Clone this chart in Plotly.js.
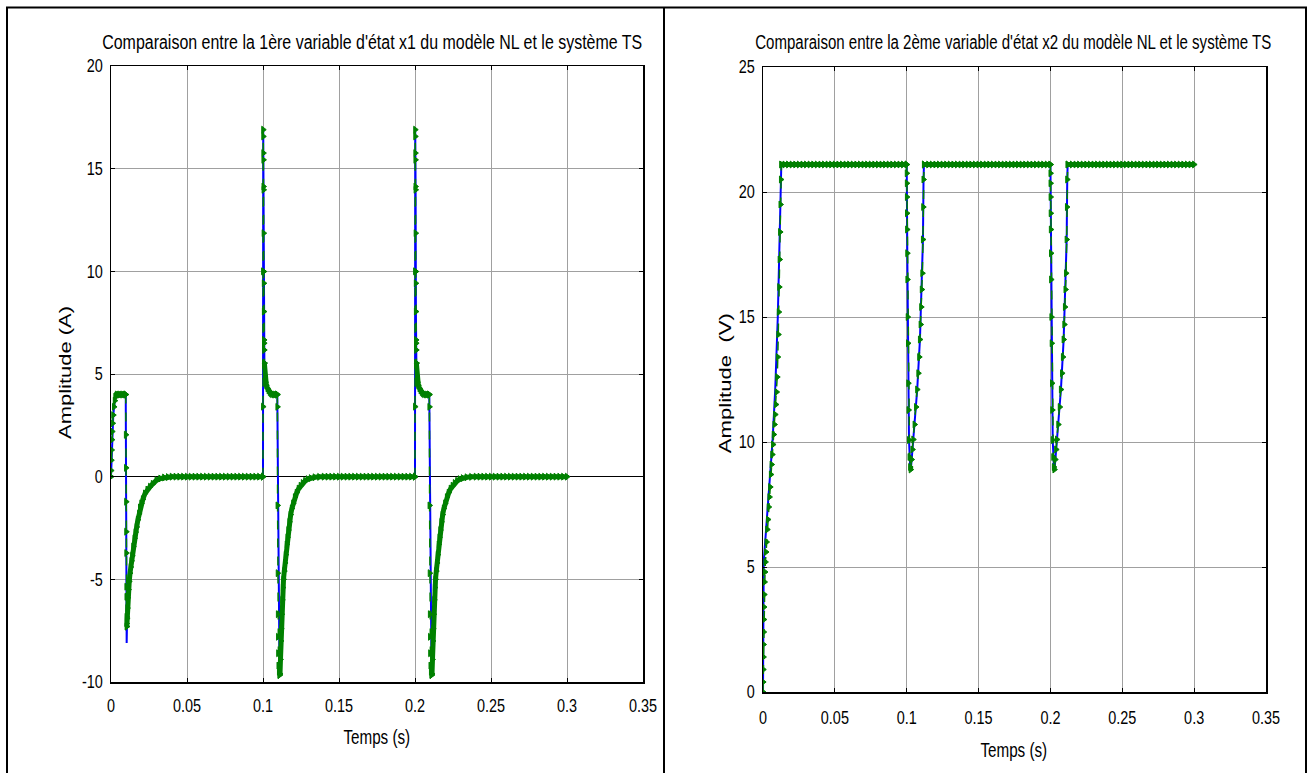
<!DOCTYPE html>
<html>
<head>
<meta charset="utf-8">
<script src="https://cdn.plot.ly/plotly-3.0.1.min.js"></script>
<style>
html,body{margin:0;padding:0;background:#fff;}
#chart{width:1314px;height:773px;}
</style>
</head>
<body>
<div id="chart"></div>
<script>
// ---------------- DATA ----------------
// Tick labels
const xTickVals = [0, 0.05, 0.1, 0.15, 0.2, 0.25, 0.3, 0.35];
const xTickText = ['0', '0.05', '0.1', '0.15', '0.2', '0.25', '0.3', '0.35'];
const y1TickVals = [-10, -5, 0, 5, 10, 15, 20];
const y1TickText = ['-10', '-5', '0', '5', '10', '15', '20'];
const y2TickVals = [0, 5, 10, 15, 20, 25];
const y2TickText = ['0', '5', '10', '15', '20', '25'];

// Texts
const title1 = "Comparaison entre la 1ère variable d'état x1 du modèle NL et le système TS";
const title2 = "Comparaison entre la 2ème variable d'état x2 du modèle NL et le système TS";
const xTitle = "Temps (s)";
const y1Title = "Amplitude (A)";
const y2Title = "Amplitude\u00a0\u00a0(V)";

// ===== x1 : TS system (green) =====
// pulse 1
const x1TsRise1T = [0,0.0001,0.0002,0.0004,0.0006,0.0008,0.0011,0.0015,0.002,0.0025,0.003];
const x1TsRise1V = [0,0.3,0.8,1.3,1.8,2.2,2.6,3.0,3.4,3.7,3.9];
const x1TsTop1T = [0.003,0.0035,0.004,0.005,0.006,0.007,0.008,0.009,0.0097];
const x1TsTop1V = [3.9,3.95,4,4,4,4,4,4,4];
const x1TsDrop1T = [0.0097,0.0098,0.0099,0.01,0.01005,0.0101,0.01015,0.0102,0.01025,0.0103,0.0104];
const x1TsDrop1V = [4,2.04,0.43,-1.22,-2.68,-3.72,-5.36,-5.85,-6.82,-7.15,-7.3];
const x1TsRec1T = [0.0104,0.0106,0.0108,0.011,0.0115,0.012,0.0125,0.013,0.0135,0.014,0.0147,0.0155,0.0162,0.0169,0.0177,0.0185,0.0191,0.02,0.021,0.0224,0.024,0.0257,0.0275,0.03,0.0325,0.035,0.0375,0.04];
const x1TsRec1V = [-7.3,-6.9,-6.4,-5.9,-5.5,-5.1,-4.7,-4.4,-4.1,-3.85,-3.4,-3.0,-2.7,-2.45,-2.1,-1.8,-1.5,-1.3,-1.1,-0.82,-0.63,-0.49,-0.35,-0.17,-0.09,-0.04,-0.02,0];
const x1TsRest1T = [0.0425,0.045,0.0475,0.05,0.0525,0.055,0.0575,0.06,0.0625,0.065,0.0675,0.07,0.0725,0.075,0.0775,0.08,0.0825,0.085,0.0875,0.09,0.0925,0.095,0.0975,0.1];
const x1TsRest1V = [0,0,0,0,0,0,0,0,0,0,0,0,0,0,0,0,0,0,0,0,0,0,0,0];
// pulse 2
const x1TsSpike2T = [0.1,0.10005,0.1001,0.10015,0.1002,0.10025,0.1003,0.10035,0.1004,0.10045,0.1005,0.10055,0.1006,0.1007,0.10075,0.1008,0.1009];
const x1TsSpike2V = [0,3.41,10,16.9,16.57,15.76,15.43,14.13,13.97,11.86,9.99,9.42,8.04,6.66,6.5,6.17,5.53];
const x1TsTop2T = [0.1009,0.1012,0.1016,0.1022,0.103,0.1037,0.1045,0.1052,0.106,0.107,0.108,0.109,0.1094];
const x1TsTop2V = [5.53,4.9,4.6,4.45,4.3,4.2,4.12,4.06,4.02,4,4,4,4];
const x1TsDrop2T = [0.1094,0.1095,0.1096,0.1097,0.1098,0.1099,0.11,0.1102,0.1105,0.1109];
const x1TsDrop2V = [4,3.4,-1.4,-4.7,-6.7,-7.8,-8.6,-9.2,-9.5,-9.66];
const x1TsRec2T = [0.1109,0.1112,0.1115,0.1118,0.112,0.1123,0.1127,0.1131,0.1135,0.114,0.1145,0.115,0.1156,0.1161,0.1167,0.1174,0.1182,0.119,0.1199,0.121,0.1222,0.1235,0.1248,0.1262,0.1278,0.1295,0.1315,0.134,0.137,0.14];
const x1TsRec2V = [-9.66,-9.6,-8.9,-8.0,-7.4,-6.7,-6.0,-5.4,-5.0,-4.6,-4.2,-3.8,-3.3,-2.95,-2.6,-2.2,-1.85,-1.55,-1.3,-1.0,-0.78,-0.58,-0.44,-0.31,-0.2,-0.12,-0.07,-0.03,-0.01,0];
const x1TsRest2T = [0.1425,0.145,0.1475,0.15,0.1525,0.155,0.1575,0.16,0.1625,0.165,0.1675,0.17,0.1725,0.175,0.1775,0.18,0.1825,0.185,0.1875,0.19,0.1925,0.195,0.1975,0.2];
const x1TsRest2V = [0,0,0,0,0,0,0,0,0,0,0,0,0,0,0,0,0,0,0,0,0,0,0,0];
// pulse 3
const x1TsSpike3T = [0.2,0.20005,0.2001,0.20015,0.2002,0.20025,0.2003,0.20035,0.2004,0.20045,0.2005,0.20055,0.2006,0.2007,0.20075,0.2008,0.2009];
const x1TsSpike3V = [0,3.41,10,16.9,16.57,15.76,15.43,14.13,13.97,11.86,9.99,9.42,8.04,6.66,6.5,6.17,5.53];
const x1TsTop3T = [0.2009,0.2012,0.2016,0.2022,0.203,0.2037,0.2045,0.2052,0.206,0.207,0.208,0.209,0.2094];
const x1TsTop3V = [5.53,4.9,4.6,4.45,4.3,4.2,4.12,4.06,4.02,4,4,4,4];
const x1TsDrop3T = [0.2094,0.2095,0.2096,0.2097,0.2098,0.2099,0.21,0.2102,0.2105,0.2109];
const x1TsDrop3V = [4,3.4,-1.4,-4.7,-6.7,-7.8,-8.6,-9.2,-9.5,-9.66];
const x1TsRec3T = [0.2109,0.2112,0.2115,0.2118,0.212,0.2123,0.2127,0.2131,0.2135,0.214,0.2145,0.215,0.2156,0.2161,0.2167,0.2174,0.2182,0.219,0.2199,0.221,0.2222,0.2235,0.2248,0.2262,0.2278,0.2295,0.2315,0.234,0.237,0.24];
const x1TsRec3V = [-9.66,-9.6,-8.9,-8.0,-7.4,-6.7,-6.0,-5.4,-5.0,-4.6,-4.2,-3.8,-3.3,-2.95,-2.6,-2.2,-1.85,-1.55,-1.3,-1.0,-0.78,-0.58,-0.44,-0.31,-0.2,-0.12,-0.07,-0.03,-0.01,0];
const x1TsRest3T = [0.2425,0.245,0.2475,0.25,0.2525,0.255,0.2575,0.26,0.2625,0.265,0.2675,0.27,0.2725,0.275,0.2775,0.28,0.2825,0.285,0.2875,0.29,0.2925,0.295,0.2975,0.3];
const x1TsRest3V = [0,0,0,0,0,0,0,0,0,0,0,0,0,0,0,0,0,0,0,0,0,0,0,0];

// ===== x1 : NL model (blue) =====
const x1NlT = [0,0.0003,0.0008,0.0015,0.0025,0.0035,0.0097,0.0103,0.0106,0.011,0.0125,0.0147,0.0169,0.0191,0.0224,0.0257,0.03,0.035,0.04,0.1,
  0.10015,0.1004,0.1006,0.1009,0.1016,0.103,0.1052,0.1094,0.1109,0.1123,0.1145,0.1167,0.1199,0.1248,0.1315,0.14,0.2,
  0.20015,0.2004,0.2006,0.2009,0.2016,0.203,0.2052,0.2094,0.2109,0.2123,0.2145,0.2167,0.2199,0.2248,0.2315,0.24,0.3];
const x1NlV = [0,0.9,2.1,3.0,3.75,4,4,-8.1,-6.9,-5.9,-4.7,-3.4,-2.45,-1.5,-0.82,-0.49,-0.17,-0.04,0,0,
  16.9,13.97,8.04,5.53,4.6,4.3,4.06,4,-9.75,-6.7,-4.2,-2.6,-1.3,-0.44,-0.07,0,0,
  16.9,13.97,8.04,5.53,4.6,4.3,4.06,4,-9.75,-6.7,-4.2,-2.6,-1.3,-0.44,-0.07,0,0];

// ===== x2 : TS system (green) =====
const x2TsStartT = [0,0.0001,0.0002,0.0003,0.0004,0.0005,0.0006,0.0007,0.0009,0.0011,0.0014,0.0017,0.0021,0.0025,0.003,0.0035,0.004,0.0045,0.005,0.0055,0.006,0.0065,0.007,0.0075,0.008,0.0085,0.009,0.0095,0.0099,0.0103,0.0107,0.011,0.0113,0.0116,0.0119,0.0122,0.0125,0.0128];
const x2TsStartV = [0,0.4,0.9,1.4,1.9,2.4,2.9,3.4,3.9,4.4,4.8,5.2,5.6,6.0,6.5,6.9,7.4,7.8,8.2,8.7,9.1,9.5,9.9,10.3,10.7,11.1,11.5,12.0,12.6,13.4,14.3,15.2,16.2,17.3,18.4,19.5,20.5,21.1];
const x2TsFlat1T = [0.0128,0.015,0.0175,0.02,0.0225,0.025,0.0275,0.03,0.0325,0.035,0.0375,0.04,0.0425,0.045,0.0475,0.05,0.0525,0.055,0.0575,0.06,0.0625,0.065,0.0675,0.07,0.0725,0.075,0.0775,0.08,0.0825,0.085,0.0875,0.09,0.0925,0.095,0.0975,0.1];
const x2TsFlat1V = [21.1,21.1,21.1,21.1,21.1,21.1,21.1,21.1,21.1,21.1,21.1,21.1,21.1,21.1,21.1,21.1,21.1,21.1,21.1,21.1,21.1,21.1,21.1,21.1,21.1,21.1,21.1,21.1,21.1,21.1,21.1,21.1,21.1,21.1,21.1,21.1];
const x2TsDip1T = [0.1,0.10005,0.1001,0.10015,0.1002,0.1003,0.1004,0.1005,0.1007,0.1009,0.1011,0.1013,0.1016,0.102,0.1024,0.1028,0.1034,0.104,0.1046,0.1055,0.1065,0.1073,0.1081,0.1087,0.1092,0.1097,0.1101,0.1105,0.1109,0.1113,0.1115,0.1117,0.112];
const x2TsDip1V = [21.1,20.75,20.35,19.8,19.15,18.5,17.55,16.5,15.0,13.95,12.35,11.28,10.08,9.4,9.0,8.9,9.3,9.7,10.1,10.7,11.4,12.1,12.75,13.4,14.1,14.7,15.4,16.1,16.75,18.1,19.4,20.5,21.1];
const x2TsFlat2T = [0.112,0.115,0.1175,0.12,0.1225,0.125,0.1275,0.13,0.1325,0.135,0.1375,0.14,0.1425,0.145,0.1475,0.15,0.1525,0.155,0.1575,0.16,0.1625,0.165,0.1675,0.17,0.1725,0.175,0.1775,0.18,0.1825,0.185,0.1875,0.19,0.1925,0.195,0.1975,0.2];
const x2TsFlat2V = [21.1,21.1,21.1,21.1,21.1,21.1,21.1,21.1,21.1,21.1,21.1,21.1,21.1,21.1,21.1,21.1,21.1,21.1,21.1,21.1,21.1,21.1,21.1,21.1,21.1,21.1,21.1,21.1,21.1,21.1,21.1,21.1,21.1,21.1,21.1,21.1];
const x2TsDip2T = [0.2,0.20005,0.2001,0.20015,0.2002,0.2003,0.2004,0.2005,0.2007,0.2009,0.2011,0.2013,0.2016,0.202,0.2024,0.2028,0.2034,0.204,0.2046,0.2055,0.2065,0.2073,0.2081,0.2087,0.2092,0.2097,0.2101,0.2105,0.2109,0.2113,0.2115,0.2117,0.212];
const x2TsDip2V = [21.1,20.75,20.35,19.8,19.15,18.5,17.55,16.5,15.0,13.95,12.35,11.28,10.08,9.4,9.0,8.9,9.3,9.7,10.1,10.7,11.4,12.1,12.75,13.4,14.1,14.7,15.4,16.1,16.75,18.1,19.4,20.5,21.1];
const x2TsFlat3T = [0.212,0.215,0.2175,0.22,0.2225,0.225,0.2275,0.23,0.2325,0.235,0.2375,0.24,0.2425,0.245,0.2475,0.25,0.2525,0.255,0.2575,0.26,0.2625,0.265,0.2675,0.27,0.2725,0.275,0.2775,0.28,0.2825,0.285,0.2875,0.29,0.2925,0.295,0.2975,0.3];
const x2TsFlat3V = [21.1,21.1,21.1,21.1,21.1,21.1,21.1,21.1,21.1,21.1,21.1,21.1,21.1,21.1,21.1,21.1,21.1,21.1,21.1,21.1,21.1,21.1,21.1,21.1,21.1,21.1,21.1,21.1,21.1,21.1,21.1,21.1,21.1,21.1,21.1,21.1];

// ===== x2 : NL model (blue) =====
const x2NlT = [0,0.0002,0.0005,0.0066,0.0085,0.0103,0.0115,0.0127,0.0135,
  0.1,0.1004,0.1009,0.1016,0.1024,0.1028,0.104,0.1055,0.1073,0.1092,0.1105,0.1113,0.1117,0.112,
  0.2,0.2004,0.2009,0.2016,0.2024,0.2028,0.204,0.2055,0.2073,0.2092,0.2105,0.2113,0.2117,0.212,
  0.3];
const x2NlV = [0,3.0,5.2,10,12.1,15,18,21.0,21.1,
  21.1,17.55,13.95,10.08,9.0,8.85,9.7,10.7,12.1,14.1,16.1,18.1,20.5,21.1,
  21.1,17.55,13.95,10.08,9.0,8.85,9.7,10.7,12.1,14.1,16.1,18.1,20.5,21.1,
  21.1];

// ---------------- STYLE ----------------
const W = 1314, H = 773;
const FONT = "'Liberation Sans', Arial, sans-serif";
const fx = v => v / W;
const fy = v => 1 - v / H;

const BLUE = '#0000ff', GREEN = '#008000';

function nlTrace(x, y, xa, ya) {
  return {x: x, y: y, xaxis: xa, yaxis: ya, type: 'scatter', mode: 'lines',
    line: {color: BLUE, width: 2}, hoverinfo: 'skip'};
}
// fast parts of the TS response: sparse simulation points (dashed green over blue)
function tsFast(x, y, xa, ya) {
  return {x: x, y: y, xaxis: xa, yaxis: ya, type: 'scatter', mode: 'lines+markers',
    line: {color: GREEN, width: 1.5, dash: 'dash'},
    marker: {symbol: 'triangle-right', size: 6, color: GREEN, line: {width: 1, color: GREEN}},
    hoverinfo: 'skip'};
}
// slow parts: very dense simulation points that merge into a thick green band
function tsSlow(x, y, xa, ya) {
  return {x: x, y: y, xaxis: xa, yaxis: ya, type: 'scatter', mode: 'lines+markers',
    line: {color: GREEN, width: 5},
    marker: {symbol: 'triangle-right', size: 6, color: GREEN, line: {width: 1, color: GREEN}},
    hoverinfo: 'skip'};
}

const data = [
  nlTrace(x1NlT, x1NlV, 'x', 'y'),
  tsFast(x1TsRise1T, x1TsRise1V, 'x', 'y'),
  tsSlow(x1TsTop1T, x1TsTop1V, 'x', 'y'),
  tsFast(x1TsDrop1T, x1TsDrop1V, 'x', 'y'),
  tsSlow([].concat(x1TsRec1T, x1TsRest1T), [].concat(x1TsRec1V, x1TsRest1V), 'x', 'y'),
  tsFast(x1TsSpike2T, x1TsSpike2V, 'x', 'y'),
  tsSlow(x1TsTop2T, x1TsTop2V, 'x', 'y'),
  tsFast(x1TsDrop2T, x1TsDrop2V, 'x', 'y'),
  tsSlow([].concat(x1TsRec2T, x1TsRest2T), [].concat(x1TsRec2V, x1TsRest2V), 'x', 'y'),
  tsFast(x1TsSpike3T, x1TsSpike3V, 'x', 'y'),
  tsSlow(x1TsTop3T, x1TsTop3V, 'x', 'y'),
  tsFast(x1TsDrop3T, x1TsDrop3V, 'x', 'y'),
  tsSlow([].concat(x1TsRec3T, x1TsRest3T), [].concat(x1TsRec3V, x1TsRest3V), 'x', 'y'),

  nlTrace(x2NlT, x2NlV, 'x2', 'y2'),
  tsFast(x2TsStartT, x2TsStartV, 'x2', 'y2'),
  tsSlow(x2TsFlat1T, x2TsFlat1V, 'x2', 'y2'),
  tsFast(x2TsDip1T, x2TsDip1V, 'x2', 'y2'),
  tsSlow(x2TsFlat2T, x2TsFlat2V, 'x2', 'y2'),
  tsFast(x2TsDip2T, x2TsDip2V, 'x2', 'y2'),
  tsSlow(x2TsFlat3T, x2TsFlat3V, 'x2', 'y2')
];

function xAxis(dom, anchor, standoff) {
  return {domain: dom, anchor: anchor, range: [0, 0.35], tickmode: 'array',
    tickvals: xTickVals, ticktext: xTickText,
    ticks: 'inside', ticklen: 4, tickwidth: 1, tickcolor: '#000',
    showline: true, linecolor: '#000', linewidth: 1.5, mirror: 'ticks',
    showgrid: true, gridcolor: '#a0a0a0', gridwidth: 1, zeroline: false,
    ticklabelstandoff: standoff,
    tickfont: {family: FONT, size: 18.5, color: '#000'}, fixedrange: true};
}
function yAxis(dom, anchor, range, tv, tt, zl) {
  return {domain: dom, anchor: anchor, range: range, tickmode: 'array',
    tickvals: tv, ticktext: tt,
    ticks: 'inside', ticklen: 4, tickwidth: 1, tickcolor: '#000',
    showline: true, linecolor: '#000', linewidth: 1.5, mirror: 'ticks',
    showgrid: true, gridcolor: '#a0a0a0', gridwidth: 1,
    zeroline: zl, zerolinecolor: '#000', zerolinewidth: 1.2,
    ticklabelstandoff: 3,
    tickfont: {family: FONT, size: 18.5, color: '#000'}, fixedrange: true};
}

const layout = {
  width: W, height: H,
  margin: {l: 0, r: 0, t: 0, b: 0, pad: 0},
  paper_bgcolor: '#fff', plot_bgcolor: '#fff',
  showlegend: false,
  xaxis: xAxis([fx(111), fx(643)], 'y', 6),
  yaxis: yAxis([fy(682), fy(66)], 'x', [-10, 20], y1TickVals, y1TickText, true),
  xaxis2: xAxis([fx(763), fx(1266)], 'y2', 8),
  yaxis2: yAxis([fy(692), fy(67)], 'x2', [0, 25], y2TickVals, y2TickText, false),
  annotations: [
    {text: title1, xref: 'paper', yref: 'paper', x: fx(372), y: fy(42), xanchor: 'center', yanchor: 'middle', showarrow: false,
     font: {family: FONT, size: 20, color: '#000'}},
    {text: title2, xref: 'paper', yref: 'paper', x: fx(1013), y: fy(42), xanchor: 'center', yanchor: 'middle', showarrow: false,
     font: {family: FONT, size: 20, color: '#000'}},
    {text: xTitle, xref: 'paper', yref: 'paper', x: fx(377), y: fy(737), xanchor: 'center', yanchor: 'middle', showarrow: false,
     font: {family: FONT, size: 19.5, color: '#000'}},
    {text: xTitle, xref: 'paper', yref: 'paper', x: fx(1014), y: fy(750), xanchor: 'center', yanchor: 'middle', showarrow: false,
     font: {family: FONT, size: 19.5, color: '#000'}},
    {text: y1Title, xref: 'paper', yref: 'paper', x: fx(65), y: fy(373), xanchor: 'center', yanchor: 'middle', textangle: -90, showarrow: false,
     font: {family: FONT, size: 17, color: '#000'}},
    {text: y2Title, xref: 'paper', yref: 'paper', x: fx(726), y: fy(383), xanchor: 'center', yanchor: 'middle', textangle: -90, showarrow: false,
     font: {family: FONT, size: 17, color: '#000'}}
  ],
  shapes: [
    {type: 'line', xref: 'paper', yref: 'paper', x0: fx(6), x1: fx(1307), y0: fy(7.5), y1: fy(7.5), line: {color: '#000', width: 2}},
    {type: 'line', xref: 'paper', yref: 'paper', x0: fx(7), x1: fx(7), y0: fy(7), y1: 0, line: {color: '#000', width: 2}},
    {type: 'line', xref: 'paper', yref: 'paper', x0: fx(1306), x1: fx(1306), y0: fy(7), y1: 0, line: {color: '#000', width: 2}},
    {type: 'line', xref: 'paper', yref: 'paper', x0: fx(664), x1: fx(664), y0: fy(7), y1: 0, line: {color: '#000', width: 2}}
  ]
};

// The source figure is a vertically stretched MATLAB plot: horizontal texts look
// narrow, vertical texts look elongated. Reproduce that with SVG textLength.
const fixedLengths = {};
fixedLengths[title1] = 540;
fixedLengths[title2] = 516;
fixedLengths[y1Title] = 133;
fixedLengths[y2Title] = 140;

Plotly.newPlot('chart', data, layout, {staticPlot: true, displayModeBar: false}).then(function (gd) {
  gd.querySelectorAll('svg text').forEach(function (t) {
    const txt = t.textContent;
    if (!txt) return;
    const natural = t.getComputedTextLength();
    if (!natural) return;
    const target = (txt in fixedLengths) ? fixedLengths[txt] : natural * 0.78;
    t.setAttribute('textLength', target.toFixed(1));
    t.setAttribute('lengthAdjust', 'spacingAndGlyphs');
  });
});
</script>
</body>
</html>
